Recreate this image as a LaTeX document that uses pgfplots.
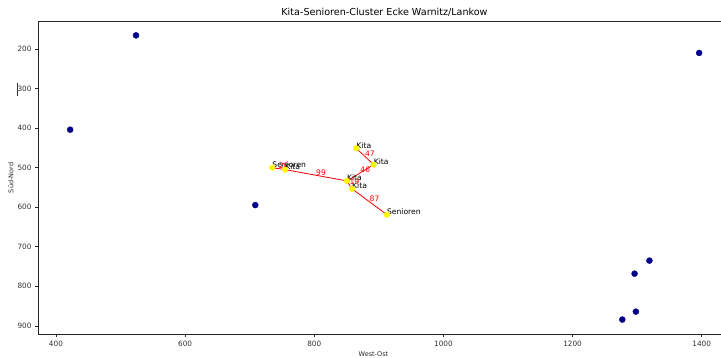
\documentclass[border=0pt]{standalone}
\usepackage{pgfplots}
\pgfplotsset{compat=1.18}
\usepackage{fontspec}
\setmainfont{DejaVu Sans}
\definecolor{navypt}{RGB}{0,0,139}
\definecolor{ptyellow}{RGB}{255,245,0}
\begin{document}
\begin{tikzpicture}[x=1pt,y=1pt]
\begin{axis}[at={(0,0)}, anchor=south west, scale only axis,
  width=692.3pt, height=312.3pt,
  xmin=373, xmax=1445, ymin=131, ymax=920.5, y dir=reverse,
  xtick={400,600,...,1400}, ytick={200,300,...,900},
  tick align=outside, major tick length=3.5pt,
  xtick pos=lower, ytick pos=left,
  xticklabel pos=lower,
  axis line style={line width=0.9pt, black!85},
  tick style={line width=0.7pt, black!85},
  ticklabel style={font=\fontsize{7.3}{8}\selectfont, text=black!80},
  /pgf/number format/assume math mode=true,
  /pgf/number format/1000 sep={},
  clip=false]
\addplot[only marks, mark=*, mark size=3pt, color=navypt] coordinates {
  (524,165.6) (422,404) (708.7,594.6) (1396,210)
  (1319,735) (1296,768) (1298,864) (1277,884)};
\addplot[red, line width=0.8pt] coordinates {(735,500) (755,505)};
\addplot[red, line width=0.8pt] coordinates {(755,505) (850.5,533.5)};
\addplot[red, line width=0.8pt] coordinates {(850.5,533.5) (858.5,553.5)};
\addplot[red, line width=0.8pt] coordinates {(858.5,553.5) (912.5,619)};
\addplot[red, line width=0.8pt] coordinates {(850.5,533.5) (892,492.5)};
\addplot[red, line width=0.8pt] coordinates {(892,492.5) (865,451)};
\addplot[only marks, mark=*, mark size=2.8pt, color=ptyellow] coordinates {
  (735,500) (755,505) (865,451) (892,492.5) (850.5,533.5) (858.5,553.5) (912.5,619)};
\begin{scope}[every node/.style={inner sep=0pt, anchor=base west, font=\fontsize{7.6}{8}\selectfont}]
\node at (axis cs:735,500) {Senioren};
\node at (axis cs:755,505) {Kita};
\node at (axis cs:865,451) {Kita};
\node at (axis cs:892,492.5) {Kita};
\node at (axis cs:850.5,533.5) {Kita};
\node at (axis cs:858.5,553.5) {Kita};
\node at (axis cs:912.5,619) {Senioren};
\node[text=red] at (axis cs:745,502.5) {20};
\node[text=red] at (axis cs:802.75,519.25) {99};
\node[text=red] at (axis cs:854.5,543.5) {19};
\node[text=red] at (axis cs:885.5,586.25) {87};
\node[text=red] at (axis cs:871.25,513) {46};
\node[text=red] at (axis cs:878.5,471.75) {47};
\end{scope}
\end{axis}
\node[anchor=base, inner sep=0pt, font=\fontsize{9.6}{11}\selectfont] at (346,318.5) {Kita-Senioren-Cluster Ecke Warnitz/Lankow};
\node[anchor=base, inner sep=0pt, font=\fontsize{6.5}{8}\selectfont, text=black!85] at (335,-22.5) {West-Ost};
\node[anchor=base, rotate=90, inner sep=0pt, font=\fontsize{6.5}{8}\selectfont, text=black!85] at (-25,156) {Süd-Nord};
\draw[line width=0.8pt, black!80] (-21.5,238) -- (-21.5,251);
\pgfresetboundingbox
\path[use as bounding box] (-38.5,-24) rectangle (682.5,334);
\end{tikzpicture}
\end{document}
